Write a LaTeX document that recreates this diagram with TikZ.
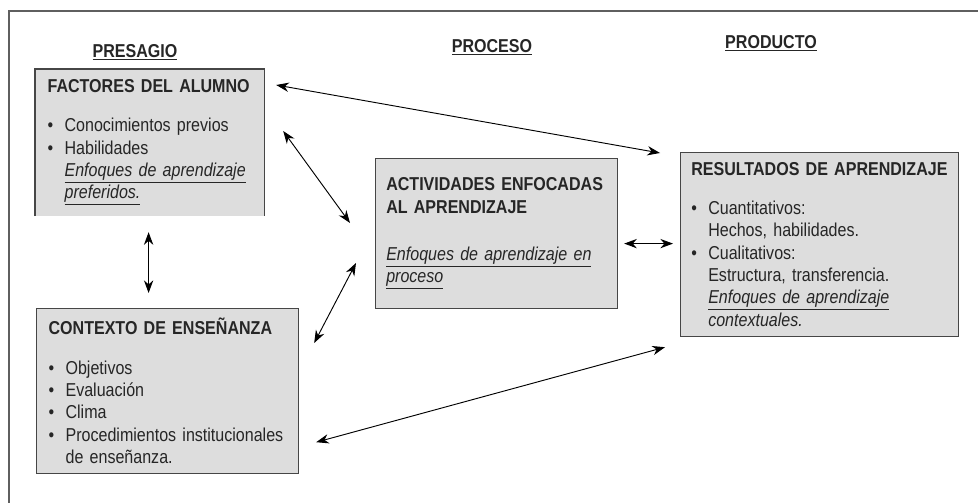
\documentclass[tikz,border=0pt]{standalone}
\usepackage{fontspec}
\setmainfont{Liberation Sans}[FakeStretch=0.86]
\usepackage{xcolor}
\usepackage{tikz}
\usetikzlibrary{arrows.meta, positioning, calc}

\definecolor{cajagris}{RGB}{221,221,221}
\definecolor{bordegris}{RGB}{70,70,70}
\definecolor{marcogris}{RGB}{95,95,95}
\newcommand{\vin}{\makebox[12.75pt][l]{\textbullet}}
\newcommand{\sang}{\hspace*{12.75pt}}

\begin{document}
\begin{tikzpicture}[
    x=0.75pt, y=-0.75pt,
    % cajas grises
    bloque/.style={fill=cajagris, draw=bordegris, line width=0.9pt, anchor=north west,
        align=left, inner xsep=9pt, inner ysep=0pt, text=black!85,
        font=\fontsize{14}{16.8}\selectfont},
    % bordes sueltos
    borde/.style={draw=bordegris, line width=0.9pt},
    % titulos de columna
    encabezado/.style={font=\fontsize{14}{16}\selectfont\bfseries, text=black!85},
    % flechas dobles
    flecha/.style={{Stealth[length=9.5pt,width=7pt]}-{Stealth[length=9.5pt,width=7pt]}, line width=0.7pt},
    marco/.style={draw=marcogris, line width=1.5pt}
]
\useasboundingbox (0,0) rectangle (978,503);

% marco
\draw[marco] (9,503) -- (9,11) -- (978,11);

% columnas
\node[encabezado] (presagio) at (135,52) {\underline{PRESAGIO}};
\node[encabezado] (proceso) at (492,47) {\underline{PROCESO}};
\node[encabezado] (producto) at (771,43) {\underline{PRODUCTO}};

% presagio
\node[bloque, draw=none, text width=153pt, minimum height=109.5pt] (fa) at (35,69) {%
    \textbf{FACTORES DEL ALUMNO}\\[12.5pt]
    \vin Conocimientos previos\\
    \vin Habilidades\\
    \sang\underline{\textit{Enfoques de aprendizaje}}\\
    \sang\underline{\textit{preferidos.}}};
\draw[borde] (fa.south west) -- (fa.north west) -- (fa.north east) -- (fa.south east);

\node[bloque, text width=178.5pt, minimum height=123.75pt] (co) at (36,308) {%
    \textbf{CONTEXTO DE ENSEÑANZA}\\[12.5pt]
    \vin Objetivos\\
    \vin Evaluación\\
    \vin Clima\\
    \vin Procedimientos institucionales\\
    \sang de enseñanza.};

% proceso
\node[bloque, inner xsep=8pt, text width=165.5pt, minimum height=112.5pt] (ac) at (375,158) {%
    \textbf{ACTIVIDADES ENFOCADAS}\\
    \textbf{AL APRENDIZAJE}\\[18.5pt]
    \underline{\textit{Enfoques de aprendizaje en}}\\
    \underline{\textit{proceso}}};

% producto
\node[bloque, inner xsep=8pt, text width=192.5pt, minimum height=138pt] (re) at (680,152) {%
    \textbf{RESULTADOS DE APRENDIZAJE}\\[12pt]
    \vin Cuantitativos:\\
    \sang Hechos, habilidades.\\
    \vin Cualitativos:\\
    \sang Estructura, transferencia.\\
    \sang\underline{\textit{Enfoques de aprendizaje}}\\
    \sang\textit{contextuales.}};

% relaciones
\draw[flecha] ($(fa.north east)+(12,16)$) -- ($(re.north west)+(-20,1)$);
\draw[flecha] ($(fa.north east)+(19,62)$) -- ($(ac.north west)+(-25,65)$);
\draw[flecha] ($(ac.north west)+(-19,105)$) -- ($(co.north east)+(15,35)$);
\draw[flecha] ($(fa.south)+(-1,16)$) -- ($(fa.south |- co.north)+(-1,-15)$);
\draw[flecha] ($(ac.east)+(6,10)$) -- ($(re.west)+(-7,-1)$);
\draw[flecha] ($(co.south east)+(17,-32)$) -- ($(re.south west)+(-15,10)$);

\end{tikzpicture}
\end{document}
